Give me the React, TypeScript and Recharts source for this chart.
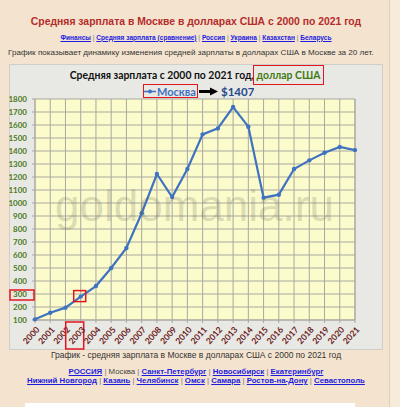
import { CartesianGrid, Line, LineChart, ReferenceDot, XAxis, YAxis } from 'recharts';

const years = ['2000', '2001', '2002', '2003', '2004', '2005', '2006', '2007', '2008', '2009', '2010',
  '2011', '2012', '2013', '2014', '2015', '2016', '2017', '2018', '2019', '2020', '2021'];
const moskva = [105, 156, 195, 280, 361, 500, 654, 921, 1223, 1046, 1262,
  1528, 1574, 1738, 1587, 1041, 1064, 1262, 1328, 1387, 1431, 1407];
const yTicks = [100, 200, 300, 400, 500, 600, 700, 800, 900, 1000, 1100, 1200, 1300, 1400, 1500, 1600, 1700, 1800];

const topLinks = ['Финансы', 'Средняя зарплата (сравнение)', 'Россия', 'Украина', 'Казахстан', 'Беларусь'];
const cityRow1 = ['РОССИЯ', 'Москва', 'Санкт-Петербург', 'Новосибирск', 'Екатеринбург'];
const cityRow2 = ['Нижний Новгород', 'Казань', 'Челябинск', 'Омск', 'Самара', 'Ростов-на-Дону', 'Севастополь'];
const currentCity = 'Москва';

const markedYear = '2003';
const markedTick = 300;

const data = years.map((year, i) => ({ year, value: moskva[i] }));

const RED = '#e3161e';
const BLUE = '#3f73c1';
const GREEN = '#4d7a1c';
const MAROON = '#6a1b1b';
const GRID = '#a9a9a0';
const chartFont = 'Lato, "DejaVu Sans", sans-serif';
const pageFont = '"Liberation Sans", Arial, sans-serif';

const XTick = (p: any) => {
  const { x, y, payload } = p;
  return (
    <g transform={`translate(${x},${y})`}>
      {payload.value === markedYear && (
        <rect x={-15} y={-3} width={18} height={27} fill="none" stroke={RED} strokeWidth={1.5} />
      )}
      <text transform="translate(5,5) rotate(-48)" textAnchor="end" fill={MAROON}
        fontSize={8.5} fontWeight={700} fontFamily={chartFont}>
        {payload.value}
      </text>
    </g>
  );
};

const YTick = (p: any) => {
  const { x, y, payload, side } = p;
  const left = side === 'left';
  return (
    <g>
      {left && payload.value === markedTick && (
        <rect x={x - 17} y={y - 4} width={24} height={10} fill="none" stroke={RED} strokeWidth={1.5} />
      )}
      <text x={x} y={y} dy="0.355em" textAnchor={left ? 'end' : 'start'} fill={GREEN}
        fontSize={8} fontWeight={700} fontFamily={chartFont}>
        {payload.value}
      </text>
    </g>
  );
};

const Links = ({ items, plain }: { items: string[]; plain?: string }) => (
  <>
    {items.map((t, i) => (
      <span key={t}>
        {t === plain ? (
          <span style={{ color: '#444', fontWeight: 400 }}>{t}</span>
        ) : (
          <span style={{ color: '#1c1ce0', fontWeight: 700, textDecoration: 'underline' }}>{t}</span>
        )}
        {i < items.length - 1 && <span style={{ color: '#777' }}> | </span>}
      </span>
    ))}
  </>
);

const centered = (top: number, fontSize: number, extra: any = {}) => ({
  position: 'absolute' as const, left: 0, width: 392, top, textAlign: 'center' as const,
  whiteSpace: 'nowrap' as const, fontSize, lineHeight: `${fontSize + 2}px`, fontFamily: pageFont, ...extra,
});

export default function App() {
  const last = moskva[moskva.length - 1];
  return (
    <div style={{ position: 'absolute', left: 0, top: 0, width: 400, height: 407, background: '#f4e4cf', overflow: 'hidden' }}>
      <div style={{ position: 'absolute', left: 389, top: 0, width: 11, height: 407, background: '#f7ebdc', borderLeft: '1px solid #e3cfb6' }} />

      <div style={centered(16, 10.4, { color: '#b42b2b', fontWeight: 700 })}>
        Средняя зарплата в Москве в долларах США с 2000 по 2021 год
      </div>
      <div style={centered(33, 8, { transform: 'scaleX(0.82)', transformOrigin: '196px 0' })}><Links items={topLinks} /></div>
      <div style={{ position: 'absolute', left: 8, top: 48, fontSize: 8.1, lineHeight: '10px', fontFamily: pageFont, color: '#333', whiteSpace: 'nowrap' }}>
        График показывает динамику изменения средней зарплаты в долларах США в Москве за 20 лет.
      </div>

      <div style={{ position: 'absolute', left: 9, top: 64, width: 372, height: 284, background: '#e8e8e4', border: '1px solid #cfcfca' }} />
      <div style={{ position: 'absolute', left: 9, top: 64 }}>
        <LineChart width={374} height={286} data={data} margin={{ top: 35, right: 0, bottom: 0, left: 0 }}>
          <CartesianGrid yAxisId="left" stroke={GRID} fill="#fbfbcb" fillOpacity={1} />
          <XAxis dataKey="year" interval={0} height={30} tickSize={3} stroke={GRID} tick={(p: any) => <XTick {...p} />} />
          <YAxis yAxisId="left" width={26} domain={[100, 1800]} ticks={yTicks} interval={0} tickSize={3} tickMargin={5}
            stroke={GRID} tick={(p: any) => <YTick {...p} side="left" />} />
          <YAxis yAxisId="right" orientation="right" width={28} domain={[100, 1800]} ticks={yTicks} interval={0} tickSize={3}
            tickMargin={5} stroke={GRID} tick={(p: any) => <YTick {...p} side="right" />} />
          <Line yAxisId="left" dataKey="value" stroke={BLUE} strokeWidth={2.2}
            dot={{ r: 2.2, fill: BLUE, stroke: BLUE, strokeWidth: 0 }} isAnimationActive={false} />
          <ReferenceDot yAxisId="left" x={markedYear} y={moskva[years.indexOf(markedYear)]}
            shape={(p: any) => <rect x={p.cx - 7} y={p.cy - 6} width={12} height={11} fill="none" stroke={RED} strokeWidth={1.5} />} />
        </LineChart>
      </div>

      <div style={{ position: 'absolute', left: 55, top: 184, fontSize: 44, lineHeight: 1, fontFamily: pageFont, color: 'rgba(90,90,70,0.2)', whiteSpace: 'nowrap', pointerEvents: 'none' }}>
        goldomania.ru
      </div>

      <div style={{ position: 'absolute', left: 0, width: 390, top: 69, textAlign: 'center', fontSize: 10.4, lineHeight: '13px', fontFamily: chartFont, fontWeight: 700, color: '#111', whiteSpace: 'nowrap' }}>
        Средняя зарплата с 2000 по 2021 год,{' '}
        <span style={{ color: '#3f7a12', outline: `1.5px solid ${RED}`, outlineOffset: 3 }}>доллар США</span>
      </div>

      <div style={{ position: 'absolute', left: 143, top: 84, width: 53, height: 12, border: `1.5px solid ${RED}` }} />
      <svg style={{ position: 'absolute', left: 144, top: 85 }} width={110} height={14}>
        <line x1={0} y1={6.5} x2={12} y2={6.5} stroke={BLUE} strokeWidth={1.5} />
        <circle cx={6} cy={6.5} r={2} fill={BLUE} />
        <text x={13} y={10.5} fontSize={11} fontWeight={700} fill={BLUE} fontFamily={chartFont}>{currentCity}</text>
        <line x1={55} y1={6.5} x2={67} y2={6.5} stroke="#000" strokeWidth={3} />
        <polygon points="66,2.5 74,6.5 66,10.5" fill="#000" />
        <text x={77} y={11} fontSize={11.5} fontWeight={700} fill="#23478c" fontFamily={chartFont}>${last}</text>
      </svg>

      <div style={centered(350, 8.5, { color: '#333' })}>
        График - средняя зарплата в Москве в долларах США с 2000 по 2021 год
      </div>
      <div style={centered(367, 7.8)}><Links items={cityRow1} plain={currentCity} /></div>
      <div style={centered(376, 7.8)}><Links items={cityRow2} /></div>

      <div style={{ position: 'absolute', left: 25, top: 403, width: 330, height: 4, background: '#fff' }} />
    </div>
  );
}
